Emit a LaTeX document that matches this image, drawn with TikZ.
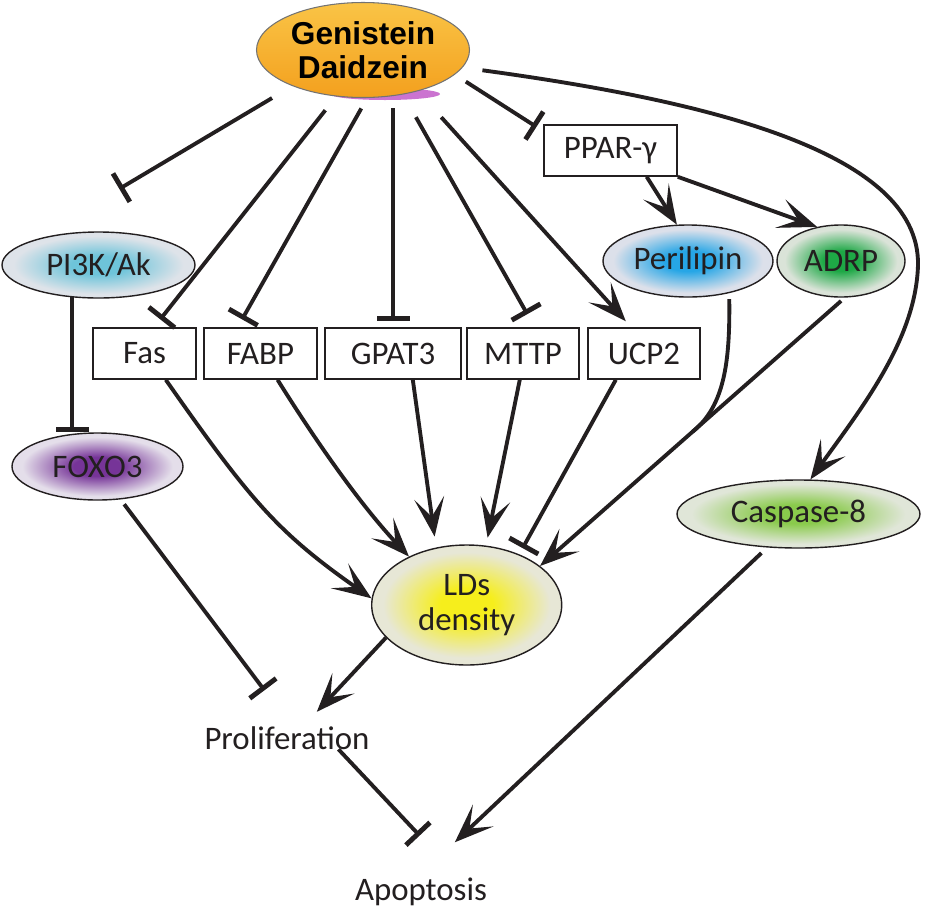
\documentclass[tikz,border=0pt]{standalone}
\usepackage{fontspec}
\setmainfont{Carlito}
\newfontfamily\headfont{Liberation Sans}
\usetikzlibrary{arrows.meta,shapes.geometric,calc}
\definecolor{txtgray}{RGB}{35,31,32}
\definecolor{genorange}{RGB}{243,160,30}
\definecolor{genyellow}{RGB}{250,196,70}
\definecolor{pinkrim}{RGB}{190,80,196}
\definecolor{pikcyan}{RGB}{110,196,218}
\definecolor{pikgray}{RGB}{222,227,233}
\definecolor{foxopurple}{RGB}{118,52,152}
\definecolor{foxogray}{RGB}{228,222,234}
\definecolor{periblue}{RGB}{38,166,230}
\definecolor{perigray}{RGB}{220,224,234}
\definecolor{adrpgreen}{RGB}{30,168,70}
\definecolor{adrpgray}{RGB}{218,227,216}
\definecolor{casplime}{RGB}{138,202,76}
\definecolor{caspgray}{RGB}{224,230,216}
\definecolor{ldsyellow}{RGB}{246,238,28}
\definecolor{ldsgray}{RGB}{231,231,214}
\newcommand\ovalshade[3]{%
  \pgfdeclareradialshading{#1}{\pgfpoint{0bp}{0bp}}{%
    color(0bp)=(#2); color(7bp)=(#2); color(22bp)=(#3); color(50bp)=(#3)}}
\ovalshade{pikshade}{pikcyan}{pikgray}
\ovalshade{foxoshade}{foxopurple}{foxogray}
\ovalshade{perishade}{periblue}{perigray}
\ovalshade{adrpshade}{adrpgreen}{adrpgray}
\ovalshade{caspshade}{casplime}{caspgray}
\ovalshade{ldsshade}{ldsyellow}{ldsgray}
\begin{document}
\begin{tikzpicture}[
  x=0.2mm, y=-0.2mm,
  font=\fontsize{18.7}{20}\selectfont, text=txtgray,
  gbox/.style = {
    rectangle, draw=txtgray, line width=0.9pt, fill=white,
    minimum height=1.02cm, inner sep=0pt
  },
  goval/.style = {ellipse, draw=txtgray, line width=0.8pt, inner sep=0pt},
  act/.style = {-{Stealth[length=0.78cm,width=0.6cm,inset=0.38cm]}, line width=2.2pt, draw=txtgray},
  inh/.style = {-{Bar[width=0.66cm,line width=2.8pt]}, line width=2.2pt, draw=txtgray}
]
  \useasboundingbox (0,0) rectangle (949,907);

  \fill[pinkrim!80] (385,94) ellipse (1.1cm and 0.12cm);
  \node[ellipse, inner sep=0pt, minimum width=4.26cm, minimum height=1.9cm,
        top color=genyellow, bottom color=genorange, draw=black!55, line width=0.6pt,
        font=\headfont\bfseries\fontsize{18}{19}\selectfont, text=black, align=center]
        (gen) at (363,50) {Genistein\\Daidzein};

  \node[gbox, minimum width=2.66cm] (ppar) at (610.5,150.5) {PPAR-γ};
  \node[goval, minimum width=3.4cm, minimum height=1.44cm, shading=perishade] (peri) at (688,261) {Perilipin};
  \node[goval, minimum width=2.56cm, minimum height=1.44cm, shading=adrpshade] (adrp) at (841,261) {ADRP};
  \node[goval, minimum width=3.86cm, minimum height=1.32cm, shading=pikshade] (pik) at (98.5,265) {PI3K/Ak};
  \node[gbox, minimum width=2.06cm] (fas)  at (144.5,353.5) {Fas};
  \node[gbox, minimum width=2.26cm] (fabp) at (260.5,353.5) {FABP};
  \node[gbox, minimum width=2.72cm] (gpat) at (393,353.5)   {GPAT3};
  \node[gbox, minimum width=2.24cm] (mttp) at (523,353.5)   {MTTP};
  \node[gbox, minimum width=2.24cm] (ucp)  at (644,353.5)   {UCP2};
  \node[goval, minimum width=3.42cm, minimum height=1.34cm, shading=foxoshade] (foxo) at (97.5,466.5) {FOXO3};
  \node[goval, minimum width=4.86cm, minimum height=1.36cm, shading=caspshade] (casp) at (798.5,514) {Caspase-8};
  \node[goval, minimum width=3.8cm, minimum height=2.4cm, shading=ldsshade, align=center] (lds) at (466.7,605) {LDs\\density};
  \node (prolif) at (287,738) {Proliferation};
  \node[inner sep=2pt] (apop) at (421,892) {Apoptosis};

  \draw[inh, shorten <=0.47cm, shorten >=2cm]    (gen.207) -- (pik.159);
  \draw[inh, shorten <=0.35cm, shorten >=0.2cm]  (gen.240) -- (fas.70);
  \draw[inh, shorten <=0.24cm, shorten >=0.18cm] (gen.275) -- (fabp.131);
  \draw[inh, shorten <=0.2cm, shorten >=0.12cm]  (gen.south -| gpat.north) -- (gpat.north);
  \draw[inh, shorten <=0.52cm, shorten >=0.3cm]  (gen.312) -- (mttp.66);
  \draw[act, shorten <=0.7cm, shorten >=0.16cm]  (gen.323) -- (ucp.116);
  \draw[inh, shorten <=0.26cm, shorten >=0.16cm] (gen.345) -- (ppar.164);
  \coordinate (caspbend) at (918,265);
  \draw[act, shorten <=0.4cm] (gen.350) .. controls (700,100) and (920,150) .. (caspbend)
    .. controls (916,340) and (860,410) .. (casp.71);

  \draw[act] (ppar.324) -- (peri.107);
  \draw[act] (ppar.south east) -- (adrp.125);
  \draw[inh] (pik.231) -- (pik.231 |- foxo.north);

  \draw[act] (fas.309) .. controls (250,500) and (277,532) .. (lds.176);
  \draw[act] (fabp.303) .. controls (307,427) and (355,499) .. (lds.140);
  \draw[act, shorten >=0.22cm] (gpat.307) -- (lds.118);
  \draw[act, shorten >=0.16cm] (mttp.263) -- (lds.72);
  \draw[inh, shorten >=0.14cm] (ucp.223) -- (lds.44);
  \draw[act, shorten <=0.1cm] (adrp.276) -- (lds.28);
  \coordinate (perijoin) at ($(adrp.276)!0.5!(lds.28)$);
  \draw[line width=2.2pt, draw=txtgray, shorten <=0.12cm] (peri.322) .. controls (730,360) and (725,406) .. (perijoin);

  \draw[inh, shorten <=0.12cm, shorten >=0.75cm] (foxo.305) -- (prolif.north);
  \draw[act, shorten >=0.23cm] (lds.202) -- (prolif.39);
  \draw[inh, shorten >=1.06cm] ($(prolif.base)!0.58!(prolif.base east)$) -- ($(apop.north)!0.5!(apop.north east)$);
  \draw[act, shorten <=0.16cm, shorten >=0.93cm] (casp.227) -- (apop.north);
\end{tikzpicture}
\end{document}
